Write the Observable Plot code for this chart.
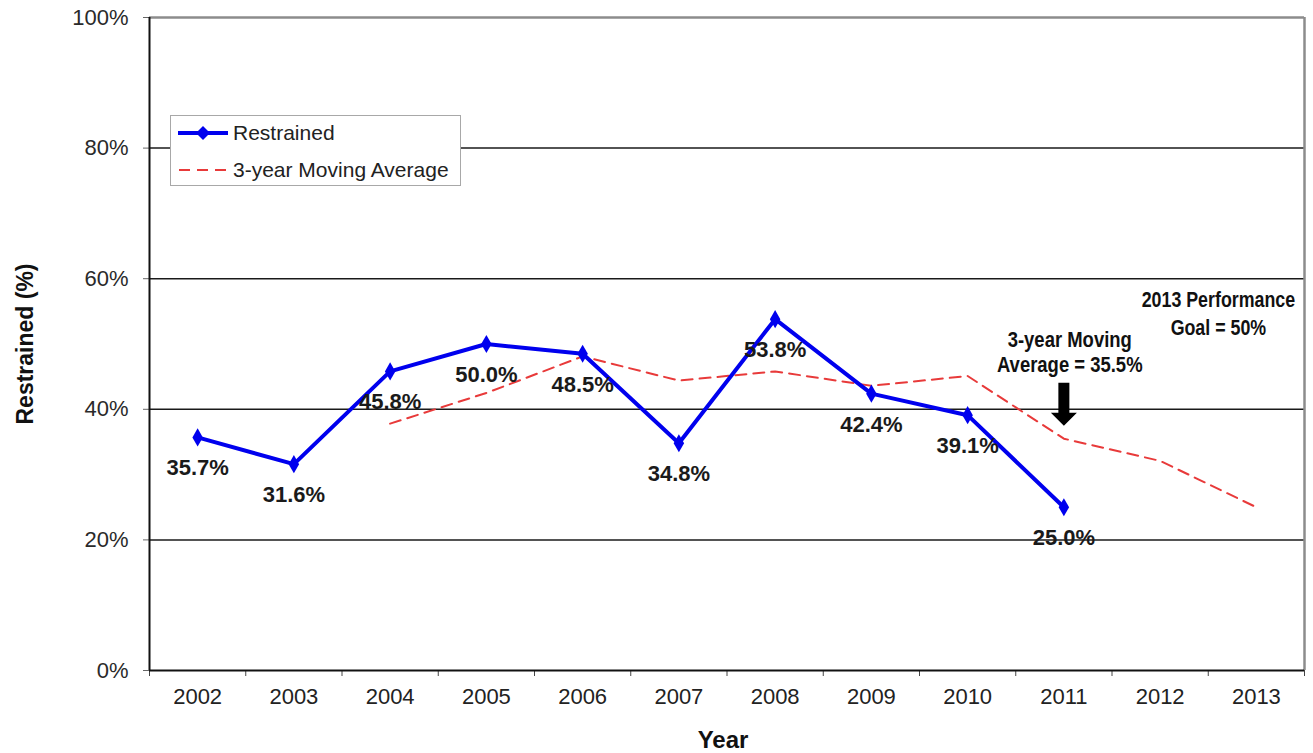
<!DOCTYPE html>
<html>
<head>
<meta charset="utf-8">
<script src="https://cdn.jsdelivr.net/npm/d3@7"></script>
<script src="https://cdn.jsdelivr.net/npm/@observablehq/plot@0.6"></script>
<style>
  body { margin: 0; background: #fff; font-family: "Liberation Sans", Arial, sans-serif; }
  #wrap { position: relative; width: 1313px; height: 753px; }
  #legend { position: absolute; left: 170px; top: 115px; width: 289px; height: 69px; border: 1px solid #a8a8a8; background: #fff; font-size: 21px; color: #222; }
  .row { position: absolute; left: 7px; height: 24px; display: flex; align-items: center; }
  .row svg { margin-right: 5px; }
</style>
</head>
<body>
<div id="wrap">
  <div id="legend">
    <div class="row" style="top:5px">
      <svg width="50" height="20"><line x1="0" y1="10" x2="50" y2="10" stroke="#0000ee" stroke-width="4"/><path d="M25,3 L32,10 L25,17 L18,10 Z" fill="#0000ee"/></svg>
      <span>Restrained</span>
    </div>
    <div class="row" style="top:42px">
      <svg width="50" height="20"><line x1="1" y1="10" x2="50" y2="10" stroke="#e83a3a" stroke-width="2" stroke-dasharray="11,7"/></svg>
      <span>3-year Moving Average</span>
    </div>
  </div>
</div>
<script>
// ---- data ----
const years = [2002, 2003, 2004, 2005, 2006, 2007, 2008, 2009, 2010, 2011, 2012, 2013];
const restrainedYears = [2002, 2003, 2004, 2005, 2006, 2007, 2008, 2009, 2010, 2011];
const restrainedValues = [0.357, 0.316, 0.458, 0.500, 0.485, 0.348, 0.538, 0.424, 0.391, 0.250];
const movingAvgYears = [2004, 2005, 2006, 2007, 2008, 2009, 2010, 2011, 2012, 2013];
const movingAvgValues = [0.378, 0.425, 0.481, 0.444, 0.458, 0.436, 0.451, 0.355, 0.321, 0.250];
const yTicks = [0, 0.2, 0.4, 0.6, 0.8, 1.0];
const gridLines = [0.2, 0.4, 0.6, 0.8];
const goalYear = 2013, goalValue = 0.5, goalText = "2013 Performance\nGoal = 50%";
const maNoteYear = 2011, maNoteValue = 0.355, maNoteText = "3-year Moving\nAverage = 35.5%";

// ---- build tables ----
const restrained = restrainedYears.map((year, i) => ({year, value: restrainedValues[i]}));
const movingAvg = movingAvgYears.map((year, i) => ({year, value: movingAvgValues[i]}));
const bounds = [...years.map(y => y - 0.5), years[years.length - 1] + 0.5];
const xMin = bounds[0], xMax = bounds[bounds.length - 1];

const FONT = '"Liberation Sans", Arial, sans-serif';
const BLUE = "#0000ee", RED = "#e83a3a";

const downArrow = {
  draw(ctx) {
    ctx.moveTo(-5.5, -43); ctx.lineTo(5.5, -43); ctx.lineTo(5.5, -13);
    ctx.lineTo(13, -13); ctx.lineTo(0, 0); ctx.lineTo(-13, -13);
    ctx.lineTo(-5.5, -13); ctx.closePath();
  }
};

const chart = Plot.plot({
  width: 1313,
  height: 753,
  marginTop: 17,
  marginBottom: 83,
  marginLeft: 149,
  marginRight: 9,
  style: {fontFamily: FONT, fontSize: "21px", color: "#222", background: "white"},
  x: {type: "linear", domain: [xMin, xMax], label: null},
  y: {domain: [0, 1], label: null},
  marks: [
    Plot.ruleY(gridLines, {stroke: "#1a1a1a", strokeWidth: 1.5}),
    Plot.ruleY([yTicks[yTicks.length - 1]], {stroke: "#8c8c8c", strokeWidth: 2.5}),
    Plot.ruleX([xMax], {stroke: "#8c8c8c", strokeWidth: 2.5}),
    Plot.axisY({ticks: yTicks, tickFormat: d3.format(".0%"), tickSize: 6, tickPadding: 15, label: null, fontSize: 22, fill: "#2a2a2a", stroke: "#666"}),
    Plot.axisX({ticks: bounds, tickSize: 6, tickFormat: () => "", label: null, stroke: "#444"}),
    Plot.axisX({ticks: years, tickSize: 0, tickPadding: 18, tickFormat: d => String(d), label: null, fontSize: 22, fill: "#222"}),
    Plot.ruleX([xMin], {stroke: "#111", strokeWidth: 2}),
    Plot.ruleY([0], {stroke: "#111", strokeWidth: 2}),
    Plot.line(movingAvg, {x: "year", y: "value", stroke: RED, strokeWidth: 2, strokeDasharray: "11,7"}),
    Plot.line(restrained, {x: "year", y: "value", stroke: BLUE, strokeWidth: 4}),
    Plot.dot(restrained, {x: "year", y: "value", symbol: "diamond", fill: BLUE, r: 5.5}),
    Plot.text(restrained, {x: "year", y: "value", text: d => d3.format(".1%")(d.value), dy: 31, fontWeight: "bold", fontSize: 22, fill: "#1a1a1a"}),
    Plot.text([{year: goalYear, value: goalValue, label: goalText}], {x: "year", y: "value", text: "label", dx: -32, dy: -32, lineHeight: 1.25, fontWeight: "bold", fontSize: 22, fill: "#111"}),
    Plot.text([{year: maNoteYear, value: maNoteValue, label: maNoteText}], {x: "year", y: "value", text: "label", dx: 5, dy: -87, lineHeight: 1.15, fontWeight: "bold", fontSize: 22, fill: "#111"}),
    Plot.dot([{year: maNoteYear, value: maNoteValue}], {x: "year", y: "value", symbol: downArrow, fill: "#000", stroke: "none", r: 5, dy: -13}),
    Plot.text(["Restrained (%)"], {frameAnchor: "left", textAnchor: "middle", lineAnchor: "middle", dx: -124, rotate: -90, fontWeight: "bold", fontSize: 23, fill: "#111"}),
    Plot.text(["Year"], {frameAnchor: "bottom", textAnchor: "middle", lineAnchor: "middle", dx: -4, dy: 70, fontWeight: "bold", fontSize: 24, fill: "#111"})
  ]
});

document.getElementById("wrap").prepend(chart);
chart.style.position = "absolute";
chart.style.left = "0";
chart.style.top = "0";

// condense the bold annotation notes horizontally (narrow bold type in the reference)
const svgRect = chart.getBoundingClientRect();
chart.querySelectorAll("text").forEach(t => {
  const s = t.textContent;
  let k = 0;
  if (s.includes("Performance")) k = 0.81;
  else if (s.includes("Average =")) k = 0.84;
  if (!k) return;
  const r = t.getBoundingClientRect();
  const cx = r.x - svgRect.x + r.width / 2;
  const g = document.createElementNS("http://www.w3.org/2000/svg", "g");
  g.setAttribute("transform", `translate(${cx},0) scale(${k},1) translate(${-cx},0)`);
  t.parentNode.insertBefore(g, t);
  g.appendChild(t);
});
</script>
</body>
</html>
